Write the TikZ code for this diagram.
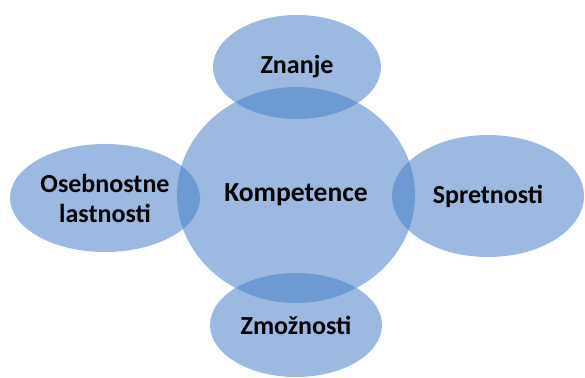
\documentclass[tikz,border=0pt]{standalone}
\usepackage{fontspec}
\setmainfont{Carlito}
\usepackage{xcolor}
\usepackage{tikz}
\usetikzlibrary{shapes.geometric, positioning}

\definecolor{blobblue}{RGB}{73,128,200}

\begin{document}
\begin{tikzpicture}[x=1pt, y=-1pt,
    blob/.style={ellipse, fill=blobblue, fill opacity=0.55, text opacity=1,
        inner sep=0pt, align=center, font=\bfseries\fontsize{26}{30}\selectfont}]
    \useasboundingbox (0,0) rectangle (585,377);

    % centre and the four around it
    \node[blob, minimum width=238pt, minimum height=216pt,
        font=\bfseries\fontsize{27.5}{32}\selectfont] (komp) at (296,195) {Kompetence};
    \node[blob, minimum width=168pt, minimum height=104pt] (znanje) at (297,67) {Znanje};
    \node[blob, minimum width=190pt, minimum height=108pt] (osebne) at (105,198) {Osebnostne\\lastnosti};
    \node[blob, minimum width=192pt, minimum height=122pt] (spret) at (488,196) {Spretnosti};
    \node[blob, minimum width=172pt, minimum height=104pt] (zmoz) at (296,325) {Zmožnosti};
\end{tikzpicture}
\end{document}
